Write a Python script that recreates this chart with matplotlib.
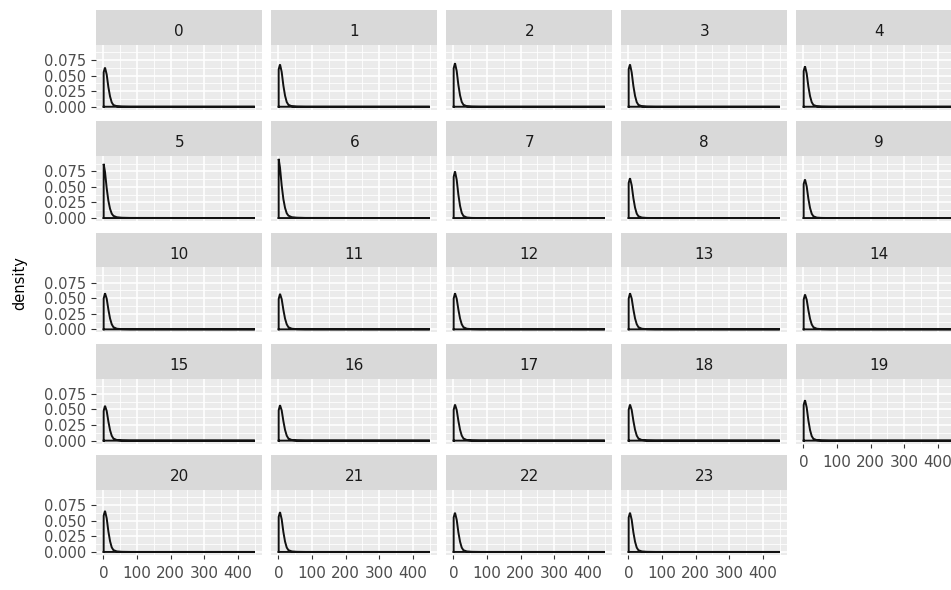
import math
import matplotlib
matplotlib.use("Agg")
import matplotlib.pyplot as plt
from matplotlib.ticker import FixedLocator, FormatStrFormatter

plt.rcParams['font.family'] = ['DejaVu Sans']

# facet labels (hour of day)
hours = ["0", "1", "2", "3", "4", "5", "6", "7", "8", "9", "10", "11",
         "12", "13", "14", "15", "16", "17", "18", "19", "20", "21", "22", "23"]

# x positions at which each density curve is sampled
x_grid = [1, 5, 10, 15, 20, 25, 30, 40, 55, 80, 450]

# estimated density per hour, sampled at x_grid
density = [
    [0.0554, 0.0630, 0.0517, 0.0315, 0.0164, 0.0069, 0.0028, 0.0008, 0.0002, 0.0000, 0],
    [0.0598, 0.0680, 0.0558, 0.0340, 0.0177, 0.0075, 0.0031, 0.0008, 0.0002, 0.0000, 0],
    [0.0616, 0.0700, 0.0574, 0.0350, 0.0182, 0.0077, 0.0032, 0.0008, 0.0002, 0.0000, 0],
    [0.0602, 0.0680, 0.0551, 0.0335, 0.0174, 0.0073, 0.0030, 0.0008, 0.0002, 0.0000, 0],
    [0.0572, 0.0650, 0.0533, 0.0325, 0.0169, 0.0072, 0.0029, 0.0008, 0.0002, 0.0000, 0],
    [0.0870, 0.0740, 0.0479, 0.0278, 0.0148, 0.0070, 0.0035, 0.0013, 0.0005, 0.0002, 0],
    [0.0950, 0.0808, 0.0523, 0.0304, 0.0162, 0.0076, 0.0038, 0.0014, 0.0006, 0.0002, 0],
    [0.0660, 0.0750, 0.0615, 0.0375, 0.0195, 0.0083, 0.0034, 0.0009, 0.0002, 0.0000, 0],
    [0.0563, 0.0640, 0.0525, 0.0320, 0.0166, 0.0070, 0.0029, 0.0008, 0.0002, 0.0000, 0],
    [0.0546, 0.0620, 0.0508, 0.0310, 0.0161, 0.0068, 0.0028, 0.0007, 0.0002, 0.0000, 0],
    [0.0493, 0.0580, 0.0493, 0.0319, 0.0174, 0.0081, 0.0035, 0.0010, 0.0003, 0.0001, 0],
    [0.0485, 0.0570, 0.0485, 0.0314, 0.0171, 0.0080, 0.0034, 0.0010, 0.0003, 0.0001, 0],
    [0.0493, 0.0580, 0.0493, 0.0319, 0.0174, 0.0081, 0.0035, 0.0010, 0.0003, 0.0001, 0],
    [0.0490, 0.0580, 0.0495, 0.0320, 0.0175, 0.0082, 0.0035, 0.0010, 0.0003, 0.0001, 0],
    [0.0476, 0.0560, 0.0476, 0.0308, 0.0168, 0.0078, 0.0034, 0.0010, 0.0003, 0.0001, 0],
    [0.0476, 0.0560, 0.0476, 0.0308, 0.0168, 0.0078, 0.0034, 0.0010, 0.0003, 0.0001, 0],
    [0.0485, 0.0570, 0.0485, 0.0314, 0.0171, 0.0080, 0.0034, 0.0010, 0.0003, 0.0001, 0],
    [0.0493, 0.0580, 0.0493, 0.0319, 0.0174, 0.0081, 0.0035, 0.0010, 0.0003, 0.0001, 0],
    [0.0493, 0.0580, 0.0493, 0.0319, 0.0174, 0.0081, 0.0035, 0.0010, 0.0003, 0.0001, 0],
    [0.0572, 0.0650, 0.0533, 0.0325, 0.0169, 0.0072, 0.0029, 0.0008, 0.0002, 0.0000, 0],
    [0.0581, 0.0660, 0.0541, 0.0330, 0.0172, 0.0073, 0.0030, 0.0008, 0.0002, 0.0000, 0],
    [0.0563, 0.0640, 0.0525, 0.0320, 0.0166, 0.0070, 0.0029, 0.0008, 0.0002, 0.0000, 0],
    [0.0554, 0.0630, 0.0517, 0.0315, 0.0164, 0.0069, 0.0028, 0.0008, 0.0002, 0.0000, 0],
    [0.0554, 0.0630, 0.0517, 0.0315, 0.0164, 0.0069, 0.0028, 0.0008, 0.0002, 0.0000, 0],
]

x_ticks = [0, 100, 200, 300, 400]
y_ticks = [0.000, 0.025, 0.050, 0.075]

W, H = 951, 590
fig = plt.figure(figsize=(W / 100, H / 100), dpi=100)
fig.patch.set_facecolor("white")

# shared scales with 5% expansion on each side
x_lo, x_hi = min(x_grid), max(x_grid)
xpad = 0.05 * (x_hi - x_lo)
ymax = max(max(row) for row in density)
ylim = (-0.05 * ymax, 1.05 * ymax)

ncol = 5
nrow = math.ceil(len(hours) / ncol)
pan_left0, pan_w, col_pitch = 96.1, 166.3, 175.0
strip_top0, strip_h, pan_h, row_pitch = 10.0, 34.6, 65.1, 111.3

TICK_COL = "#333333"
LAB_COL = "#4D4D4D"


def fig_rect(left, top, w, h):
    return [left / W, 1 - (top + h) / H, w / W, h / H]


for i, (lab, ys) in enumerate(zip(hours, density)):
    r, c = divmod(i, ncol)
    left = pan_left0 + c * col_pitch
    s_top = strip_top0 + r * row_pitch
    p_top = s_top + strip_h

    ax = fig.add_axes(fig_rect(left, p_top, pan_w, pan_h))
    ax.set_facecolor("#EBEBEB")
    for sp in ax.spines.values():
        sp.set_visible(False)
    ax.set_xlim(x_lo - xpad, x_hi + xpad)
    ax.set_ylim(*ylim)
    ax.xaxis.set_major_locator(FixedLocator(x_ticks))
    ax.xaxis.set_minor_locator(FixedLocator([50, 150, 250, 350, 450]))
    ax.yaxis.set_major_locator(FixedLocator(y_ticks))
    ax.yaxis.set_minor_locator(FixedLocator([0.0125, 0.0375, 0.0625, 0.0875]))
    ax.xaxis.set_major_formatter(FormatStrFormatter("%d"))
    ax.yaxis.set_major_formatter(FormatStrFormatter("%.3f"))
    ax.grid(which="major", color="white", lw=1.2)
    ax.grid(which="minor", color="white", lw=0.6)
    ax.set_axisbelow(True)
    ax.tick_params(which="minor", length=0)

    # closed density outline: left edge, curve, right edge, baseline
    px = [x_grid[0]] + x_grid + [x_grid[-1], x_grid[0]]
    py = [0] + ys + [0, 0]
    ax.plot(px, py, color="#111111", lw=1.4, solid_joinstyle="miter")

    show_y = c == 0
    show_x = (r == nrow - 1) or (i + ncol >= len(hours))
    ax.tick_params(axis="y", which="major", left=show_y, labelleft=show_y,
                   length=3.6, width=0.8, color=TICK_COL, labelcolor=LAB_COL,
                   labelsize=10.5, pad=3.4)
    ax.tick_params(axis="x", which="major", bottom=show_x, labelbottom=show_x,
                   length=2.9, width=0.8, color=TICK_COL, labelcolor=LAB_COL,
                   labelsize=11, pad=5.0)

    sax = fig.add_axes(fig_rect(left, s_top, pan_w, strip_h))
    sax.set_facecolor("#D9D9D9")
    for sp in sax.spines.values():
        sp.set_visible(False)
    sax.set_xticks([])
    sax.set_yticks([])
    sax.text(0.5, 0.25, lab, transform=sax.transAxes, ha="center",
             va="baseline", color="#1A1A1A", fontsize=11)

fig.text(20 / W, 1 - 283 / H, "density", rotation=90, ha="center",
         va="center", color="black", fontsize=10.5)

fig.savefig("out.png", dpi=100, facecolor="white")
